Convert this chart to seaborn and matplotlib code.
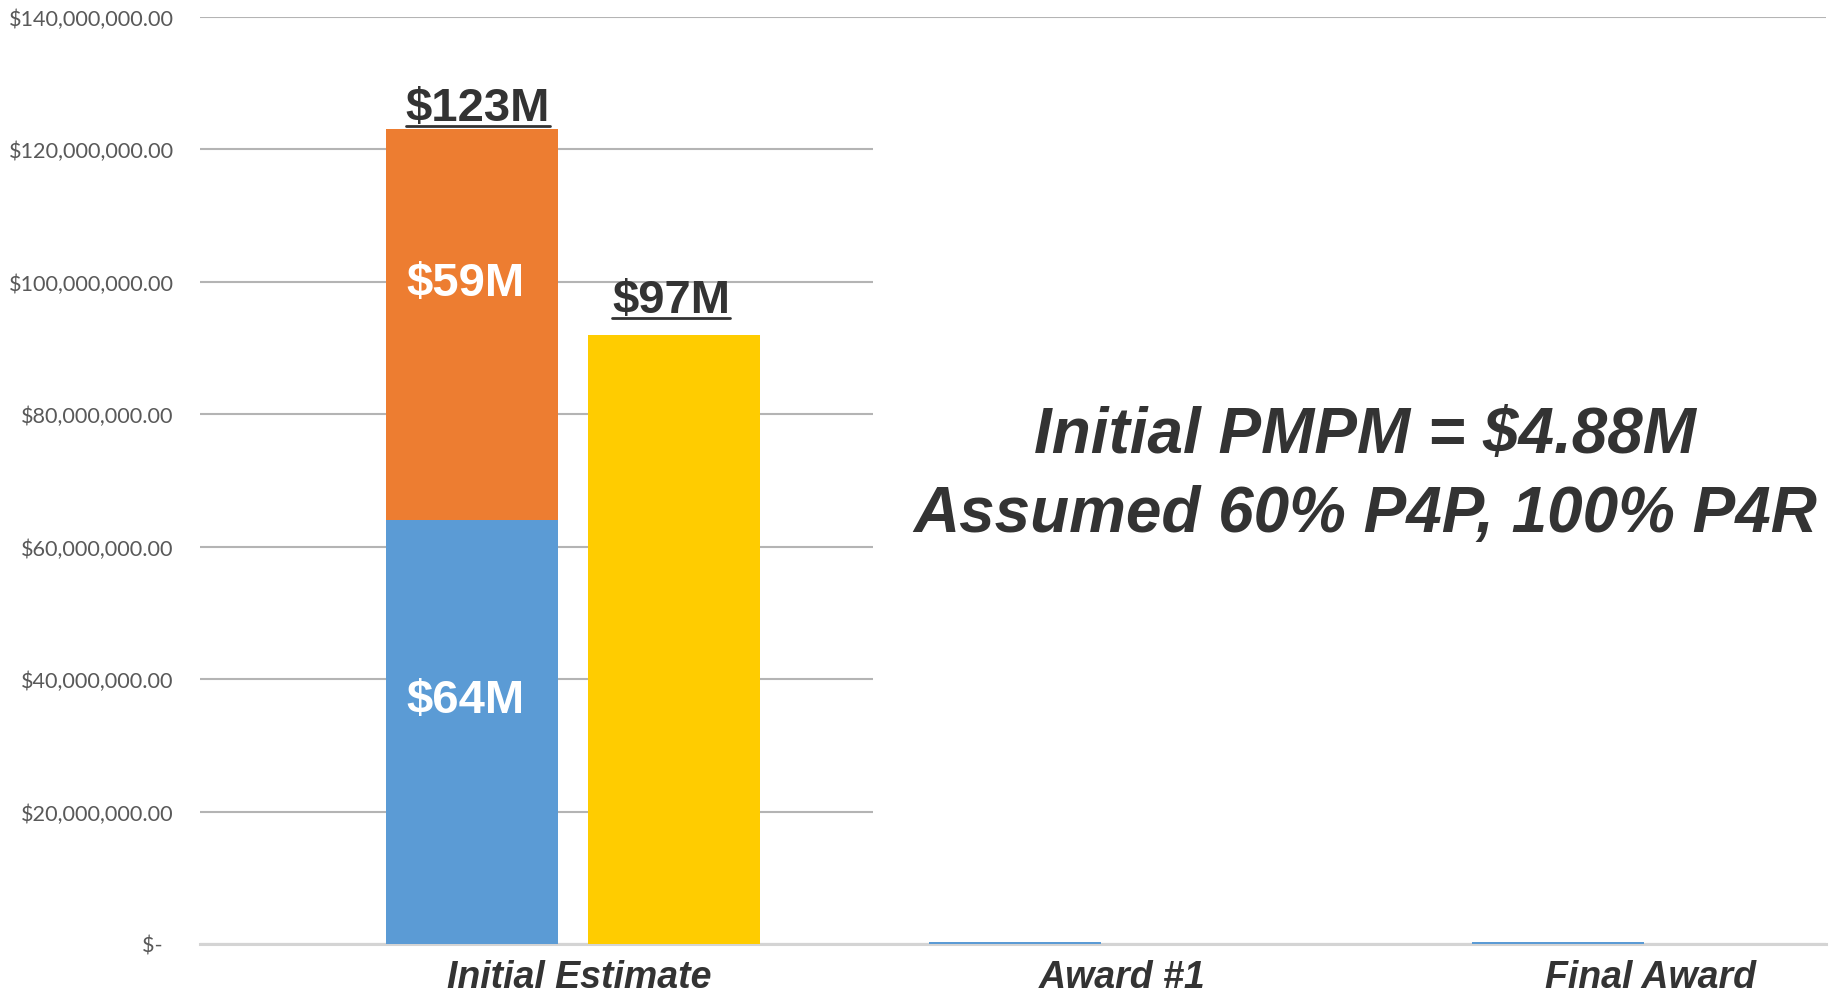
import numpy as np
import pandas as pd
import matplotlib
matplotlib.use("Agg")
import matplotlib.pyplot as plt
import matplotlib.transforms as mtransforms
import seaborn as sns
from matplotlib.lines import Line2D
from matplotlib.patches import Rectangle

# ---------------- data ----------------
categories = ["Initial Estimate", "Award #1", "Final Award"]
p4p_values = [64e6, 0.3e6, 0.3e6]        # blue segment
p4r_values = [59e6, 0.0, 0.0]            # orange segment
revised_values = [92e6, 0.0, 0.0]        # yellow bar
p4p_label = "$64M"
p4r_label = "$59M"
total_label = "$123M"
revised_label = "$97M"
ytick_values = [0, 20e6, 40e6, 60e6, 80e6, 100e6, 120e6, 140e6]
ytick_labels = ["$-  ", "$20,000,000.00", "$40,000,000.00", "$60,000,000.00",
                "$80,000,000.00", "$100,000,000.00", "$120,000,000.00",
                "$140,000,000.00"]
note_lines = ["Initial PMPM = $4.88M", "Assumed 60% P4P, 100% P4R"]

BLUE = "#5B9BD5"
ORANGE = "#ED7D31"
YELLOW = "#FFCC00"
DARK = "#333333"

sns.set_theme(style="white")
plt.rcParams["font.family"] = ["Liberation Sans", "DejaVu Sans"]

W, H = 1833, 995
fig = plt.figure(figsize=(W / 100, H / 100), dpi=100)
ax = fig.add_axes([200 / W, 50 / H, 1626 / W, 927.5 / H])

groups = ["stack", "revised"]
totals = [a + b for a, b in zip(p4p_values, p4r_values)]
df_top = pd.DataFrame({
    "category": categories * 2,
    "group": ["stack"] * 3 + ["revised"] * 3,
    "value": totals + revised_values,
})
df_base = pd.DataFrame({
    "category": categories * 2,
    "group": ["stack"] * 3 + ["revised"] * 3,
    "value": p4p_values + [0.0] * 3,
})

common = dict(x="category", y="value", hue="group", hue_order=groups,
              order=categories, width=0.744, gap=0.15, saturation=1,
              errorbar=None, legend=False, linewidth=0, ax=ax, zorder=3)
sns.barplot(data=df_top, palette={"stack": ORANGE, "revised": YELLOW}, **common)
sns.barplot(data=df_base, palette={"stack": BLUE, "revised": YELLOW}, **common)

ax.set_xlim(-0.687, 2.307)
ax.set_ylim(0, 140e6)
ax.set_yticks(ytick_values, ytick_labels)
ax.yaxis.grid(True, color="#b4b4b4", lw=1.5)
ax.xaxis.grid(False)
ax.set_axisbelow(True)
for s in ["top", "left", "right"]:
    ax.spines[s].set_visible(False)
ax.spines["bottom"].set_color("#d4d4d4")
ax.spines["bottom"].set_linewidth(2.2)
ax.set_xlabel("")
ax.set_ylabel("")
ax.tick_params(axis="y", length=0, pad=19, labelsize=15.6, labelcolor="#595959")
ax.tick_params(axis="x", length=0, pad=10.5)
for t in ax.get_yticklabels():
    t.set_fontfamily(["Lato", "DejaVu Sans"])
label_shift_px = [6, 6, -9]
for t, sh in zip(ax.get_xticklabels(), label_shift_px):
    t.set_fontsize(27)
    t.set_fontweight("bold")
    t.set_fontstyle("italic")
    t.set_color(DARK)
    t.set_transform(t.get_transform() +
                    mtransforms.ScaledTranslation(sh / 100, 0, fig.dpi_scale_trans))

# white box behind the note (hides gridlines like the reference)
ax.add_patch(Rectangle((0.414, 0.07), 0.59, 0.86, transform=ax.transAxes,
                       facecolor="white", edgecolor="none", zorder=0.8))

ax.text(0.7165, 0.530, note_lines[0], transform=ax.transAxes, ha="center",
        va="baseline", fontsize=46, fontweight="bold", fontstyle="italic",
        color=DARK, zorder=5)
ax.text(0.7165, 0.445, note_lines[1], transform=ax.transAxes, ha="center",
        va="baseline", fontsize=46, fontweight="bold", fontstyle="italic",
        color=DARK, zorder=5)


def find_patch(height):
    for p in ax.patches:
        if np.isclose(p.get_height(), height) and p.get_x() < 0.5:
            return p
    return None


p_total = find_patch(totals[0])
p_blue = find_patch(p4p_values[0])
p_rev = find_patch(revised_values[0])

labels = []


def add_label(patch, text, dx, dy, color, underline):
    xc = patch.get_x() + patch.get_width() / 2
    top = patch.get_y() + patch.get_height()
    t = ax.annotate(text, xy=(xc, top), xytext=(dx, dy), textcoords="offset pixels",
                    ha="center", va="baseline", fontsize=34, fontweight="bold",
                    color=color, zorder=6)
    labels.append((t, xc, top, dx, dy, underline))


add_label(p_total, total_label, 6, 9, DARK, True)
add_label(p_rev, revised_label, -3, 23, DARK, True)
add_label(p_total, p4r_label, -7, -166, "white", False)
add_label(p_blue, p4p_label, -7, -192, "white", False)

fig.canvas.draw()
renderer = fig.canvas.get_renderer()
for t, xc, top, dx, dy, underline in labels:
    if not underline:
        continue
    bb = t.get_window_extent(renderer)
    base = ax.transData.transform((xc, top))[1] + dy
    yl = base - 6
    fig.add_artist(Line2D([bb.x0 / W, bb.x1 / W], [yl / H, yl / H],
                          transform=fig.transFigure, color=DARK, lw=2.0))

fig.savefig("out.png", dpi=100, facecolor="white")
